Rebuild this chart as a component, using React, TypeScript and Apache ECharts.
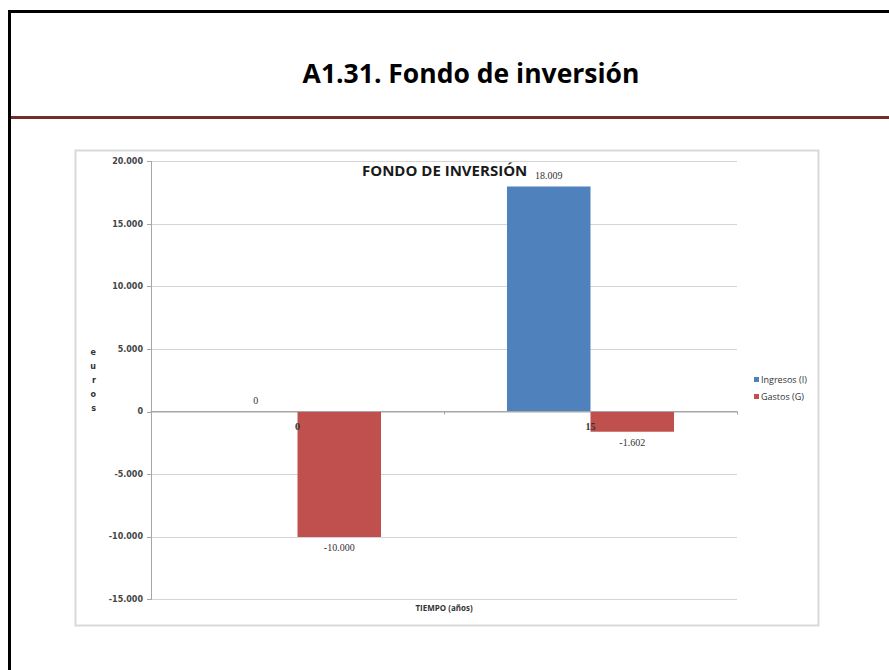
import React, { useEffect, useRef } from "react";
import * as echarts from "echarts";

const categories = ["0", "15"];
const ingresos = [0, 18009];
const gastos = [-10000, -1602];
const seriesNames = ["Ingresos (I)", "Gastos (G)"];
const pageTitle = "A1.31. Fondo de inversión";
const chartTitle = "FONDO DE INVERSIÓN";
const xName = "TIEMPO (años)";
const yName = "euros";

const fmt = (v: number) => {
  const neg = v < 0;
  const s = Math.abs(Math.round(v)).toString().replace(/\B(?=(\d{3})+(?!\d))/g, ".");
  return (neg ? "-" : "") + s;
};

const labelFor = (v: number) => ({
  show: true,
  position: v < 0 ? "bottom" : "top",
  distance: 6,
  formatter: (p: any) => fmt(p.value),
  fontFamily: "Liberation Serif",
  fontSize: 10,
  color: "#333",
});

export default function App() {
  const ref = useRef<HTMLDivElement>(null);
  useEffect(() => {
    if (!ref.current) return;
    const chart = echarts.init(ref.current, undefined, { renderer: "svg" });
    chart.setOption({
      animation: false,
      backgroundColor: "#ffffff",
      title: {
        text: chartTitle,
        left: 362,
        top: 162,
        padding: 0,
        textStyle: { fontFamily: "Open Sans", fontWeight: "bold", fontSize: 15, color: "#1a1a1a" },
      },
      legend: {
        orient: "vertical",
        left: 754,
        top: 374,
        itemWidth: 5,
        itemHeight: 5,
        itemGap: 6,
        icon: "rect",
        padding: 0,
        data: seriesNames,
        textStyle: { fontFamily: "Open Sans", fontSize: 9, lineHeight: 11, color: "#333", padding: [0, 0, 0, -3] },
      },
      graphic: [
        {
          type: "rect",
          shape: { x: 9.5, y: 11.5, width: 1000, height: 1000 },
          style: { fill: "none", stroke: "#000", lineWidth: 3 },
          silent: true,
        },
        {
          type: "line",
          shape: { x1: 11, y1: 117.5, x2: 889, y2: 117.5 },
          style: { stroke: "#772c2c", lineWidth: 3 },
          silent: true,
        },
        {
          type: "rect",
          shape: { x: 75.5, y: 150.5, width: 743, height: 475 },
          style: { fill: "none", stroke: "#d9d9d9", lineWidth: 2 },
          silent: true,
        },
        {
          type: "text",
          x: 471,
          y: 73,
          style: {
            text: pageTitle,
            font: "bold 26.5px 'Open Sans'",
            fill: "#000",
            textAlign: "center",
            textVerticalAlign: "middle",
          },
          silent: true,
        },
        {
          type: "text",
          x: 444,
          y: 607,
          style: {
            text: xName,
            font: "bold 8px 'Open Sans'",
            fill: "#333",
            textAlign: "center",
            textVerticalAlign: "middle",
          },
          silent: true,
        },
      ],
      grid: { left: 151, top: 161.5, right: 152, bottom: 70.5, containLabel: false },
      xAxis: {
        type: "category",
        data: categories,
        z: 3,
        position: "bottom",
        offset: -188,
        axisLine: { onZero: false, lineStyle: { color: "#a6a6a6", width: 1 } },
        axisTick: { show: true, length: 3, lineStyle: { color: "#a6a6a6" } },
        axisLabel: {
          margin: 10,
          fontFamily: "Liberation Serif",
          fontSize: 10,
          fontWeight: "bold",
          color: "#333",
        },
        splitLine: { show: false },
      },
      yAxis: {
        type: "value",
        min: -15000,
        max: 20000,
        interval: 5000,
        name: yName.split("").join("\n"),
        nameLocation: "middle",
        nameRotate: 0,
        nameGap: 55,
        nameTextStyle: { fontFamily: "DejaVu Sans", fontWeight: "bold", fontSize: 8, lineHeight: 14, color: "#333" },
        axisLine: { show: true, lineStyle: { color: "#a6a6a6" } },
        axisTick: { show: true, length: 4, lineStyle: { color: "#a6a6a6" } },
        axisLabel: {
          margin: 8,
          formatter: (v: number) => fmt(v),
          fontFamily: "DejaVu Sans",
          fontWeight: "bold",
          fontSize: 8,
          color: "#444",
        },
        splitLine: { show: true, lineStyle: { color: "#d4d4d4", width: 1 } },
      },
      series: [
        {
          name: seriesNames[0],
          type: "bar",
          barGap: "0%",
          barCategoryGap: "43%",
          itemStyle: { color: "#4f81bd" },
          data: ingresos.map((v) => ({ value: v, label: labelFor(v) })),
        },
        {
          name: seriesNames[1],
          type: "bar",
          barGap: "0%",
          barCategoryGap: "43%",
          itemStyle: { color: "#c0504d" },
          data: gastos.map((v) => ({ value: v, label: labelFor(v) })),
        },
      ],
    });
    return () => chart.dispose();
  }, []);
  return (
    <div
      ref={ref}
      style={{ position: "fixed", left: 0, top: 0, width: 889, height: 670, background: "#fff" }}
    />
  );
}
